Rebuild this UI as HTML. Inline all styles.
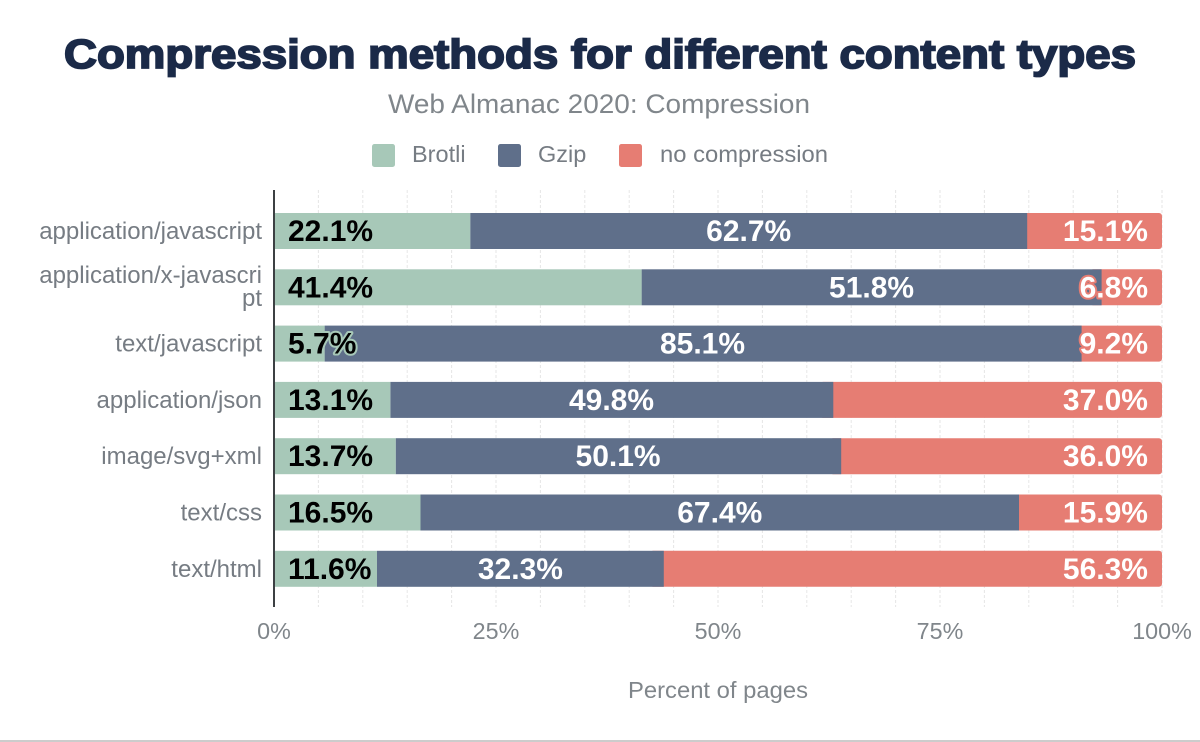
<!DOCTYPE html>
<html>
<head>
<meta charset="utf-8">
<style>
  html, body { margin: 0; padding: 0; background: #fff; }
  svg { display: block; }
  .yl { font-family: "Liberation Sans", Arial, sans-serif; font-size: 24px; fill: #767c83; }
  .xt { font-family: "Liberation Sans", Arial, sans-serif; font-size: 23.3px; fill: #80868b; }
  .lg { font-family: "Liberation Sans", Arial, sans-serif; font-size: 23.5px; fill: #767c83; }
  .bl { font-family: "Liberation Sans", Arial, sans-serif; font-size: 30px; font-weight: bold; paint-order: stroke; stroke-width: 4; stroke-linejoin: round; }
</style>
</head>
<body>
<svg width="1200" height="742" viewBox="0 0 1200 742" xmlns="http://www.w3.org/2000/svg">
  <rect width="1200" height="742" fill="#fff"/>

  <!-- Title -->
  <text x="600" y="68" text-anchor="middle" font-family="'Liberation Sans', Arial, sans-serif" font-size="41" font-weight="bold" fill="#1b2a48" stroke="#1b2a48" stroke-width="1.8" textLength="1072" lengthAdjust="spacingAndGlyphs">Compression methods for different content types</text>
  <!-- Subtitle -->
  <text x="599" y="113" text-anchor="middle" font-family="'Liberation Sans', Arial, sans-serif" font-size="26.5" fill="#80868b" textLength="422" lengthAdjust="spacingAndGlyphs">Web Almanac 2020: Compression</text>

  <!-- Legend -->
  <rect x="372" y="144" width="23" height="23" rx="2.5" fill="#a7c8b8"/>
  <text class="lg" x="412" y="162">Brotli</text>
  <rect x="498" y="144" width="23" height="23" rx="2.5" fill="#5f6f8a"/>
  <text class="lg" x="538" y="162">Gzip</text>
  <rect x="619" y="144" width="23" height="23" rx="2.5" fill="#e67d73"/>
  <text class="lg" x="660" y="162" textLength="168" lengthAdjust="spacingAndGlyphs">no compression</text>

  <!-- Gridlines -->
  <g stroke="#e6e6e6" stroke-width="1" stroke-dasharray="3,2">
    <line x1="318.4" y1="190" x2="318.4" y2="607"/>
    <line x1="362.8" y1="190" x2="362.8" y2="607"/>
    <line x1="407.2" y1="190" x2="407.2" y2="607"/>
    <line x1="451.6" y1="190" x2="451.6" y2="607"/>
    <line x1="496" y1="190" x2="496" y2="607"/>
    <line x1="540.4" y1="190" x2="540.4" y2="607"/>
    <line x1="584.8" y1="190" x2="584.8" y2="607"/>
    <line x1="629.2" y1="190" x2="629.2" y2="607"/>
    <line x1="673.6" y1="190" x2="673.6" y2="607"/>
    <line x1="718" y1="190" x2="718" y2="607"/>
    <line x1="762.4" y1="190" x2="762.4" y2="607"/>
    <line x1="806.8" y1="190" x2="806.8" y2="607"/>
    <line x1="851.2" y1="190" x2="851.2" y2="607"/>
    <line x1="895.6" y1="190" x2="895.6" y2="607"/>
    <line x1="940" y1="190" x2="940" y2="607"/>
    <line x1="984.4" y1="190" x2="984.4" y2="607"/>
    <line x1="1028.8" y1="190" x2="1028.8" y2="607"/>
    <line x1="1073.2" y1="190" x2="1073.2" y2="607"/>
    <line x1="1117.6" y1="190" x2="1117.6" y2="607"/>
    <line x1="1162" y1="190" x2="1162" y2="607"/>
  </g>

  <!-- Bars -->
  <rect x="1020" y="213" width="142" height="36" rx="3" fill="#e67d73"/>
  <rect x="470.2" y="213" width="557" height="36" fill="#5f6f8a"/>
  <rect x="274" y="213" width="196.2" height="36" fill="#a7c8b8"/>

  <rect x="1090" y="269.3" width="72" height="36" rx="3" fill="#e67d73"/>
  <rect x="641.6" y="269.3" width="460" height="36" fill="#5f6f8a"/>
  <rect x="274" y="269.3" width="367.6" height="36" fill="#a7c8b8"/>

  <rect x="1070" y="325.6" width="92" height="36" rx="3" fill="#e67d73"/>
  <rect x="324.6" y="325.6" width="757" height="36" fill="#5f6f8a"/>
  <rect x="274" y="325.6" width="50.6" height="36" fill="#a7c8b8"/>

  <rect x="820" y="381.9" width="342" height="36" rx="3" fill="#e67d73"/>
  <rect x="390.3" y="381.9" width="443" height="36" fill="#5f6f8a"/>
  <rect x="274" y="381.9" width="116.3" height="36" fill="#a7c8b8"/>

  <rect x="830" y="438.2" width="332" height="36" rx="3" fill="#e67d73"/>
  <rect x="395.7" y="438.2" width="445.5" height="36" fill="#5f6f8a"/>
  <rect x="274" y="438.2" width="121.7" height="36" fill="#a7c8b8"/>

  <rect x="1010" y="494.5" width="152" height="36" rx="3" fill="#e67d73"/>
  <rect x="420.5" y="494.5" width="598.5" height="36" fill="#5f6f8a"/>
  <rect x="274" y="494.5" width="146.5" height="36" fill="#a7c8b8"/>

  <rect x="650" y="550.8" width="512" height="36" rx="3" fill="#e67d73"/>
  <rect x="377" y="550.8" width="286.8" height="36" fill="#5f6f8a"/>
  <rect x="274" y="550.8" width="103" height="36" fill="#a7c8b8"/>

  <!-- Axis line -->
  <line x1="274" y1="190" x2="274" y2="607" stroke="#3c4043" stroke-width="2"/>

  <!-- Bar labels -->
  <g class="bl">
    <text x="288" y="241" fill="#000" stroke="#a7c8b8">22.1%</text>
    <text x="748.7" y="241" text-anchor="middle" fill="#fff" stroke="#5f6f8a">62.7%</text>
    <text x="1148" y="241" text-anchor="end" fill="#fff" stroke="#e67d73">15.1%</text>

    <text x="288" y="297.3" fill="#000" stroke="#a7c8b8">41.4%</text>
    <text x="871.6" y="297.3" text-anchor="middle" fill="#fff" stroke="#5f6f8a">51.8%</text>
    <text x="1148" y="297.3" text-anchor="end" fill="#fff" stroke="#e67d73">6.8%</text>

    <text x="288" y="353.6" fill="#000" stroke="#a7c8b8">5.7%</text>
    <text x="702.5" y="353.6" text-anchor="middle" fill="#fff" stroke="#5f6f8a">85.1%</text>
    <text x="1148" y="353.6" text-anchor="end" fill="#fff" stroke="#e67d73">9.2%</text>

    <text x="288" y="409.9" fill="#000" stroke="#a7c8b8">13.1%</text>
    <text x="611.5" y="409.9" text-anchor="middle" fill="#fff" stroke="#5f6f8a">49.8%</text>
    <text x="1148" y="409.9" text-anchor="end" fill="#fff" stroke="#e67d73">37.0%</text>

    <text x="288" y="466.2" fill="#000" stroke="#a7c8b8">13.7%</text>
    <text x="618.1" y="466.2" text-anchor="middle" fill="#fff" stroke="#5f6f8a">50.1%</text>
    <text x="1148" y="466.2" text-anchor="end" fill="#fff" stroke="#e67d73">36.0%</text>

    <text x="288" y="522.5" fill="#000" stroke="#a7c8b8">16.5%</text>
    <text x="719.8" y="522.5" text-anchor="middle" fill="#fff" stroke="#5f6f8a">67.4%</text>
    <text x="1148" y="522.5" text-anchor="end" fill="#fff" stroke="#e67d73">15.9%</text>

    <text x="288" y="578.8" fill="#000" stroke="#a7c8b8">11.6%</text>
    <text x="520.4" y="578.8" text-anchor="middle" fill="#fff" stroke="#5f6f8a">32.3%</text>
    <text x="1148" y="578.8" text-anchor="end" fill="#fff" stroke="#e67d73">56.3%</text>
  </g>

  <!-- Y labels -->
  <g class="yl" text-anchor="end">
    <text x="262" y="239">application/javascript</text>
    <text x="262" y="283">application/x-javascri</text>
    <text x="262" y="306">pt</text>
    <text x="262" y="351.6">text/javascript</text>
    <text x="262" y="407.9">application/json</text>
    <text x="262" y="464.2">image/svg+xml</text>
    <text x="262" y="520.5">text/css</text>
    <text x="262" y="576.8">text/html</text>
  </g>

  <!-- X tick labels -->
  <g class="xt" text-anchor="middle">
    <text x="274" y="639">0%</text>
    <text x="496" y="639">25%</text>
    <text x="718" y="639">50%</text>
    <text x="940" y="639">75%</text>
    <text x="1162" y="639">100%</text>
  </g>

  <!-- X axis title -->
  <text class="xt" x="718" y="698" text-anchor="middle" textLength="180" lengthAdjust="spacingAndGlyphs">Percent of pages</text>

  <!-- Bottom line -->
  <line x1="0" y1="741" x2="1200" y2="741" stroke="#9a9a9a" stroke-width="1"/>
</svg>
</body>
</html>
